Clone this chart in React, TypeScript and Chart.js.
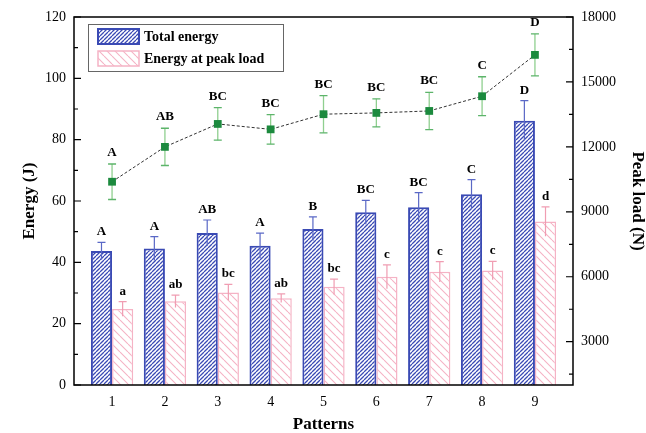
import { useEffect, useRef } from 'react';
import { Chart, registerables } from 'chart.js';
Chart.register(...registerables);

const patterns = ['1', '2', '3', '4', '5', '6', '7', '8', '9'];
const totalEnergy = [43.7, 44.5, 49.6, 45.4, 50.9, 56.3, 58.0, 62.2, 86.2];
const totalEnergyErr = [2.8, 3.9, 4.2, 4.1, 3.9, 3.9, 4.7, 4.8, 6.5];
const peakEnergy = [24.8, 27.3, 30.2, 28.3, 32.0, 35.3, 36.9, 37.3, 53.3];
const peakEnergyErr = [2.4, 2.0, 2.6, 1.4, 2.5, 3.9, 3.3, 3.0, 4.8];
const peakLoad = [10390, 12000, 13060, 12810, 13510, 13570, 13660, 14340, 16250];
const peakLoadErr = [820, 860, 750, 680, 860, 650, 860, 900, 970];
const totalLetters = ['A', 'A', 'AB', 'A', 'B', 'BC', 'BC', 'C', 'D'];
const peakLetters = ['a', 'ab', 'bc', 'ab', 'bc', 'c', 'c', 'c', 'd'];
const loadLetters = ['A', 'AB', 'BC', 'BC', 'BC', 'BC', 'BC', 'C', 'D'];
const leftTicks = [0, 20, 40, 60, 80, 100, 120];
const leftMinor = [10, 30, 50, 70, 90, 110];
const rightTicks = [3000, 6000, 9000, 12000, 15000, 18000];
const rightMinor = [1500, 4500, 7500, 10500, 13500, 16500];

const SERIF = "'Liberation Serif', 'Times New Roman', serif";
const BLUE = '#3a4ab4';
const PINK = '#f5b3c5';

function makeHatch(ctx: CanvasRenderingContext2D, color: string, s: number, lw: number, dir: string) {
  const c = document.createElement('canvas');
  c.width = s;
  c.height = s;
  const g = c.getContext('2d')!;
  g.fillStyle = '#ffffff';
  g.fillRect(0, 0, s, s);
  g.strokeStyle = color;
  g.lineWidth = lw;
  g.beginPath();
  for (const o of [-s, 0, s]) {
    if (dir === '/') {
      g.moveTo(o, s);
      g.lineTo(o + s, 0);
    } else {
      g.moveTo(o, 0);
      g.lineTo(o + s, s);
    }
  }
  g.stroke();
  return ctx.createPattern(c, 'repeat')!;
}

export default function App() {
  const ref = useRef<HTMLCanvasElement>(null);
  useEffect(() => {
    const canvas = ref.current!;
    const ctx0 = canvas.getContext('2d')!;
    const blueHatch = makeHatch(ctx0, BLUE, 4, 1.3, '/');
    const pinkHatch = makeHatch(ctx0, PINK, 8, 1.1, '\\');

    const overlay = {
      id: 'overlay',
      beforeDatasetsDraw(chart: any) {
        const ctx = chart.ctx;
        const y2 = chart.scales.y2;
        const meta = chart.getDatasetMeta(2);
        ctx.save();
        meta.data.forEach((pt: any, i: number) => {
          const x = pt.x;
          const top = y2.getPixelForValue(peakLoad[i] + peakLoadErr[i]);
          const bot = y2.getPixelForValue(peakLoad[i] - peakLoadErr[i]);
          ctx.strokeStyle = '#8fcf8f';
          ctx.lineWidth = 1.3;
          ctx.beginPath();
          ctx.moveTo(x, top);
          ctx.lineTo(x, bot);
          ctx.stroke();
          ctx.strokeStyle = '#5cb46a';
          ctx.beginPath();
          ctx.moveTo(x - 4, top);
          ctx.lineTo(x + 4, top);
          ctx.moveTo(x - 4, bot);
          ctx.lineTo(x + 4, bot);
          ctx.stroke();
        });
        ctx.restore();
      },
      afterDatasetsDraw(chart: any) {
        const ctx = chart.ctx;
        const y = chart.scales.y;
        const y2 = chart.scales.y2;
        const ca = chart.chartArea;
        ctx.save();
        const bars = (di: number, vals: number[], errs: number[], color: string, letters: string[]) => {
          const meta = chart.getDatasetMeta(di);
          meta.data.forEach((b: any, i: number) => {
            const x = b.x;
            const top = y.getPixelForValue(vals[i] + errs[i]);
            const bot = y.getPixelForValue(vals[i] - errs[i]);
            ctx.strokeStyle = color;
            ctx.lineWidth = 1.2;
            ctx.beginPath();
            ctx.moveTo(x, top);
            ctx.lineTo(x, bot);
            ctx.moveTo(x - 4, top);
            ctx.lineTo(x + 4, top);
            ctx.stroke();
            ctx.fillStyle = '#000';
            ctx.font = `bold 13px ${SERIF}`;
            ctx.textAlign = 'center';
            ctx.textBaseline = 'alphabetic';
            ctx.fillText(letters[i], x, top - 7);
          });
        };
        bars(0, totalEnergy, totalEnergyErr, '#5a68c6', totalLetters);
        bars(1, peakEnergy, peakEnergyErr, '#f09db2', peakLetters);
        const lm = chart.getDatasetMeta(2);
        lm.data.forEach((pt: any, i: number) => {
          const top = y2.getPixelForValue(peakLoad[i] + peakLoadErr[i]);
          ctx.fillStyle = '#000';
          ctx.font = `bold 13px ${SERIF}`;
          ctx.textAlign = 'center';
          ctx.fillText(loadLetters[i], pt.x, top - 8);
        });
        // frame
        ctx.strokeStyle = '#000';
        ctx.lineWidth = 1.5;
        ctx.strokeRect(ca.left, ca.top, ca.right - ca.left, ca.bottom - ca.top);
        // ticks (inward)
        ctx.lineWidth = 1.2;
        ctx.beginPath();
        leftTicks.forEach((v) => {
          const p = y.getPixelForValue(v);
          ctx.moveTo(ca.left, p);
          ctx.lineTo(ca.left + 7, p);
        });
        leftMinor.forEach((v) => {
          const p = y.getPixelForValue(v);
          ctx.moveTo(ca.left, p);
          ctx.lineTo(ca.left + 4, p);
        });
        rightTicks.forEach((v) => {
          const p = y2.getPixelForValue(v);
          ctx.moveTo(ca.right, p);
          ctx.lineTo(ca.right - 7, p);
        });
        rightMinor.forEach((v) => {
          const p = y2.getPixelForValue(v);
          ctx.moveTo(ca.right, p);
          ctx.lineTo(ca.right - 4, p);
        });
        ctx.stroke();
        // legend
        const lx = 88, ly = 24, lw = 195, lh = 47;
        ctx.fillStyle = '#fff';
        ctx.fillRect(lx, ly, lw, lh);
        ctx.strokeStyle = '#666';
        ctx.lineWidth = 1;
        ctx.strokeRect(lx + 0.5, ly + 0.5, lw, lh);
        ctx.fillStyle = blueHatch;
        ctx.fillRect(98, 29, 41, 15);
        ctx.strokeStyle = BLUE;
        ctx.lineWidth = 2;
        ctx.strokeRect(98, 29, 41, 15);
        ctx.fillStyle = pinkHatch;
        ctx.fillRect(98, 51, 41, 15);
        ctx.strokeStyle = PINK;
        ctx.lineWidth = 1.5;
        ctx.strokeRect(98, 51, 41, 15);
        ctx.fillStyle = '#000';
        ctx.font = `bold 14px ${SERIF}`;
        ctx.textAlign = 'left';
        ctx.textBaseline = 'middle';
        ctx.fillText('Total energy', 144, 37);
        ctx.fillText('Energy at peak load', 144, 59);
        ctx.restore();
      },
    };

    const chart = new Chart(canvas, {
      type: 'bar',
      data: {
        datasets: [
          {
            type: 'bar',
            label: 'Total energy',
            data: totalEnergy.map((v, i) => ({ x: i + 1, y: v })),
            backgroundColor: blueHatch,
            borderColor: BLUE,
            borderWidth: 2,
            yAxisID: 'y',
            order: 2,
          },
          {
            type: 'bar',
            label: 'Energy at peak load',
            data: peakEnergy.map((v, i) => ({ x: i + 1, y: v })),
            backgroundColor: pinkHatch,
            borderColor: PINK,
            borderWidth: 1.5,
            yAxisID: 'y',
            order: 2,
          },
          {
            type: 'line',
            label: 'Peak load',
            data: peakLoad.map((v, i) => ({ x: i + 1, y: v })),
            borderColor: '#333',
            borderWidth: 1,
            borderDash: [3, 2],
            pointStyle: 'rect',
            pointRadius: 5.5,
            pointBackgroundColor: '#1c8a3e',
            pointBorderColor: '#1c8a3e',
            pointBorderWidth: 0,
            yAxisID: 'y2',
            order: 1,
          },
        ] as any,
      },
      options: {
        animation: false,
        responsive: false,
        layout: { padding: { top: 17, left: 0, right: 0, bottom: 0 } },
        datasets: { bar: { categoryPercentage: 0.8, barPercentage: 1.0 } } as any,
        plugins: { legend: { display: false }, tooltip: { enabled: false } },
        scales: {
          x: {
            type: 'linear',
            offset: false,
            min: 0.28,
            max: 9.72,
            grid: { display: false, drawTicks: false },
            border: { display: false },
            afterBuildTicks: (s: any) => {
              s.ticks = patterns.map((_, i) => ({ value: i + 1 }));
            },
            afterFit: (s: any) => {
              s.height = 48;
            },
            ticks: {
              padding: 9,
              color: '#000',
              font: { family: SERIF, size: 14 },
              callback: (v: any) => patterns[Number(v) - 1] ?? '',
            },
            title: {
              display: true,
              text: 'Patterns',
              color: '#000',
              font: { family: SERIF, size: 17, weight: 'bold', lineHeight: 1 },
              padding: { top: 0, bottom: 0 },
            },
          },
          y: {
            position: 'left',
            min: 0,
            max: 120,
            grid: { display: false, drawTicks: false },
            border: { display: false },
            afterBuildTicks: (s: any) => {
              s.ticks = leftTicks.map((v) => ({ value: v }));
            },
            afterFit: (s: any) => {
              s.width = 74;
            },
            ticks: { padding: 8, color: '#000', font: { family: SERIF, size: 14 }, callback: (v: any) => String(v) },
            title: {
              display: true,
              text: 'Energy (J)',
              color: '#000',
              font: { family: SERIF, size: 17, weight: 'bold', lineHeight: 1 },
              padding: { top: 21, bottom: 0 },
            },
          },
          y2: {
            position: 'right',
            min: 1000,
            max: 18000,
            grid: { display: false, drawTicks: false },
            border: { display: false },
            afterBuildTicks: (s: any) => {
              s.ticks = rightTicks.map((v) => ({ value: v }));
            },
            afterFit: (s: any) => {
              s.width = 73;
            },
            ticks: { padding: 8, color: '#000', font: { family: SERIF, size: 14 }, callback: (v: any) => String(v) },
            title: {
              display: true,
              text: 'Peak load (N)',
              color: '#000',
              font: { family: SERIF, size: 17, weight: 'bold', lineHeight: 1 },
              padding: { top: 0, bottom: 0 },
            },
          },
        },
      } as any,
      plugins: [overlay],
    });
    return () => chart.destroy();
  }, []);
  return (
    <div style={{ position: 'fixed', left: 0, top: 0, width: 646, height: 433, background: '#fff' }}>
      <canvas ref={ref} width={646} height={433} />
    </div>
  );
}
